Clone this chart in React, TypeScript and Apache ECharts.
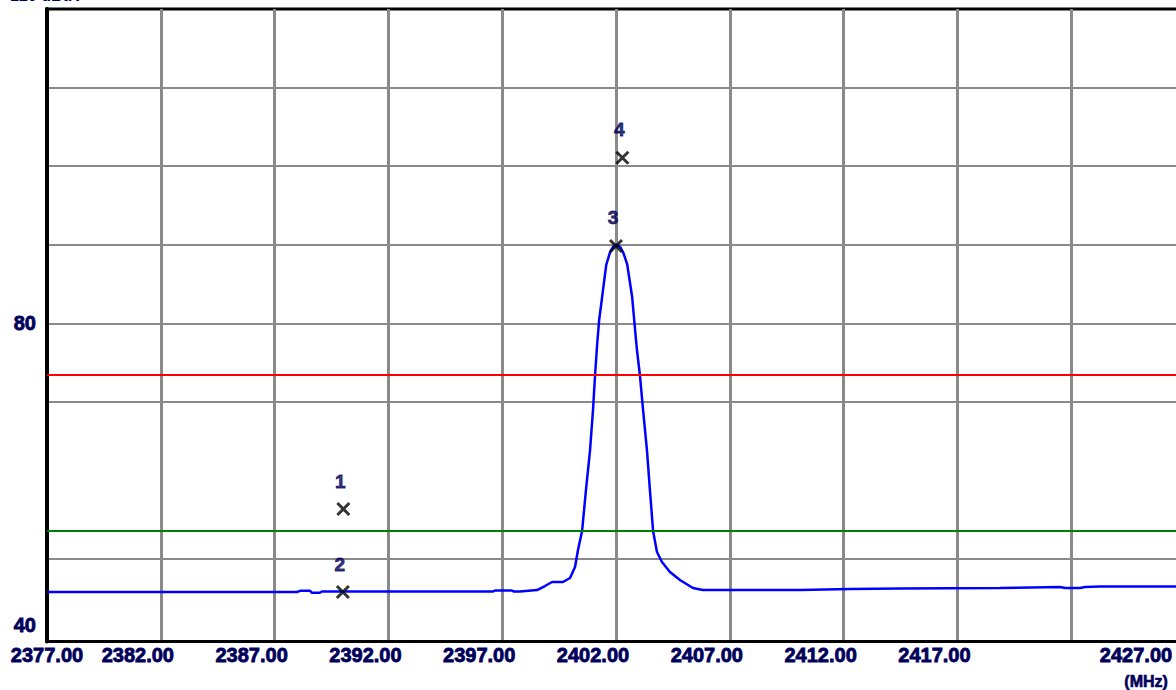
import React, { useEffect, useRef } from "react";
import * as echarts from "echarts";

// Trace (frequency in MHz, level in dB)
const freqMHz = [
  2377.0, 2383.72, 2387.98, 2388.12, 2388.56, 2388.64, 2388.99, 2389.08, 2394.71, 2396.6,
  2396.68, 2397.43, 2397.52, 2397.78, 2398.53, 2398.88, 2399.19, 2399.67, 2399.98, 2400.2,
  2400.33, 2400.51, 2400.68, 2400.86, 2400.99, 2401.08, 2401.17, 2401.26, 2401.39, 2401.57,
  2401.74, 2401.87, 2402.05, 2402.18, 2402.31, 2402.49, 2402.71, 2402.84, 2402.92, 2403.05,
  2403.19, 2403.36, 2403.49, 2403.63, 2403.8, 2404.02, 2404.37, 2404.81, 2405.38, 2405.82,
  2410.08, 2412.28, 2414.48, 2418.87, 2421.51, 2421.73, 2422.39, 2422.61, 2423.27, 2427.0,
];
const levelDb = [
  45.8, 45.8, 45.8, 45.95, 45.95, 45.7, 45.7, 45.86, 45.86, 45.86,
  45.99, 45.99, 45.86, 45.86, 46.05, 46.56, 47.07, 47.07, 47.58, 48.98,
  51.14, 53.56, 58.78, 63.87, 68.96, 73.42, 77.24, 80.42, 83.34, 87.42,
  89.07, 89.71, 89.96, 89.71, 89.07, 87.54, 83.34, 79.14, 76.6, 73.42,
  68.96, 63.87, 58.78, 53.56, 50.89, 49.62, 48.35, 47.33, 46.31, 46.05,
  46.05, 46.18, 46.24, 46.31, 46.43, 46.31, 46.31, 46.43, 46.5, 46.5,
];

// Markers
const markerNames = ["1", "2", "3", "4"];
const markerFreq = [2390.02, 2390.0, 2402.0, 2402.28];
const markerLevel = [56.36, 45.8, 89.84, 101.07];

// Limit lines
const limitRed = 73.4;
const limitGreen = 53.6;

// Axes
const xMin = 2377;
const xMax = 2427;
const xGridValues = [2382, 2387, 2392, 2397, 2402, 2407, 2412, 2417, 2422, 2427];
const xLabelValues = [2377, 2382, 2387, 2392, 2397, 2402, 2407, 2412, 2417, 2427];
const yMin = 39.5;
const yMax = 120;
const yGridValues = [50, 70, 80, 90, 100, 110];
const yLabelValues = [40, 80];

const NAVY = "#00005a";
const FONT = "'Liberation Sans', Arial, sans-serif";

export default function App() {
  const ref = useRef<HTMLDivElement>(null);
  useEffect(() => {
    if (!ref.current) return;
    const chart = echarts.init(ref.current, null, { renderer: "svg" });
    const labelBase = {
      fontSize: 20,
      fontWeight: "bold",
      color: NAVY,
      fontFamily: FONT,
      lineHeight: 20,
      textBorderColor: NAVY,
      textBorderWidth: 0.8,
    };
    chart.setOption({
      animation: false,
      backgroundColor: "#ffffff",
      grid: {
        left: 47,
        top: 9,
        right: -9,
        bottom: 48.5,
        containLabel: false,
        outerBoundsMode: "none",
        show: true,
        borderColor: "#000",
        borderWidth: 3,
        backgroundColor: "#fff",
      },
      xAxis: {
        type: "value",
        min: xMin,
        max: xMax,
        axisLine: { show: true, lineStyle: { color: "#000", width: 3 } },
        axisTick: { show: false, customValues: xGridValues },
        splitLine: { show: true, lineStyle: { color: "#8a8a8a", width: 3 } },
        axisLabel: {
          customValues: xLabelValues,
          margin: 3,
          hideOverlap: false,
          formatter: (v: number) => {
            const s = v.toFixed(2);
            if (v === xMin) return "{f|" + s + "}";
            if (v === xMax) return "{e|" + s + "}";
            return "{n|" + s + "}";
          },
          rich: {
            f: { ...labelBase },
            n: { ...labelBase, padding: [0, 46, 0, 0] },
            e: { ...labelBase, padding: [0, 98, 0, 0] },
          },
        },
      },
      yAxis: {
        type: "value",
        min: yMin,
        max: yMax,
        axisLine: { show: true, lineStyle: { color: "#000", width: 4 } },
        axisTick: { show: false, customValues: yGridValues },
        splitLine: { show: true, lineStyle: { color: "#8a8a8a", width: 2 } },
        axisLabel: {
          customValues: yLabelValues,
          margin: 11,
          formatter: (v: number) => (v === 40 ? "{b|" + v + "}" : "{a|" + v + "}"),
          rich: {
            a: { ...labelBase },
            b: { ...labelBase, padding: [0, 0, 25, 0] },
          },
        },
      },
      graphic: [
        {
          type: "text",
          left: 10,
          top: -13,
          style: { text: "120 dBuV", fontSize: 16, fontWeight: "bold", fill: NAVY, fontFamily: FONT },
        },
        {
          type: "text",
          left: 1124,
          top: 673,
          style: {
            text: "(MHz)",
            fontSize: 16,
            fontWeight: "bold",
            fill: NAVY,
            fontFamily: FONT,
            stroke: NAVY,
            lineWidth: 0.6,
          },
        },
      ],
      series: [
        {
          type: "line",
          data: freqMHz.map((f, i) => [f, levelDb[i]]),
          showSymbol: false,
          smooth: false,
          lineStyle: { color: "#0000ff", width: 2.5 },
          z: 3,
          markLine: {
            silent: true,
            symbol: "none",
            label: { show: false },
            data: [
              { yAxis: limitRed, lineStyle: { color: "#ff0000", width: 2, type: "solid" } },
              { yAxis: limitGreen, lineStyle: { color: "#008000", width: 2, type: "solid" } },
            ],
          },
        },
        {
          type: "scatter",
          data: markerFreq.map((f, i) => ({ value: [f, markerLevel[i]], name: markerNames[i] })),
          symbol: "path://M0 0L10 10M10 0L0 10",
          symbolSize: 12,
          itemStyle: { color: "rgba(0,0,0,0)", borderColor: "#000", borderWidth: 3 },
          z: 5,
          label: {
            show: true,
            position: "top",
            distance: 11,
            offset: [-3, 0],
            formatter: "{b}",
            fontSize: 19,
            fontWeight: "bold",
            color: NAVY,
            fontFamily: FONT,
            textBorderColor: NAVY,
            textBorderWidth: 0.8,
          },
        },
      ],
    });
    return () => chart.dispose();
  }, []);
  return (
    <div
      ref={ref}
      style={{ position: "fixed", left: 0, top: 0, width: 1176, height: 690, background: "#fff" }}
    />
  );
}
